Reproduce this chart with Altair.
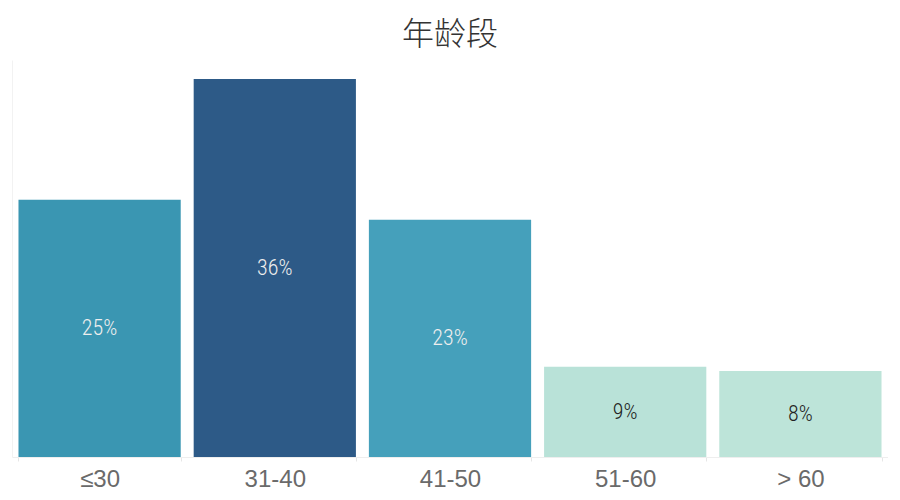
import altair as alt
import pandas as pd

categories = ["≤30", "31-40", "41-50", "51-60", "> 60"]
values = [24.5, 36.0, 22.6, 8.6, 8.2]
labels = ["25%", "36%", "23%", "9%", "8%"]
colors = ["#3a96b2", "#2d5a87", "#45a0bb", "#b9e2d8", "#bde4d9"]
label_colors = ["#eeeeee", "#eeeeee", "#eeeeee", "#222222", "#222222"]

df = pd.DataFrame({
    "cat": categories,
    "value": values,
    "label": labels,
    "color": colors,
    "lcolor": label_colors,
})

x = alt.X(
    "cat:N",
    sort=categories,
    title=None,
    scale=alt.Scale(paddingInner=0.074, paddingOuter=0.037),
    axis=alt.Axis(
        labelAngle=0,
        labelFont="Liberation Sans",
        labelFontSize=24,
        labelColor="#6a6a6a",
        labelPadding=6,
        domainColor="#eeeeee",
        tickColor="#e6e6e6",
        tickSize=4,
        tickBand="extent",
    ),
)
y = alt.Y(
    "value:Q",
    title=None,
    scale=alt.Scale(domain=[0, 37.8], nice=False),
    axis=alt.Axis(labels=False, ticks=False, grid=False, domainColor="#f2f2f2", title=None),
)

bars = alt.Chart(df).mark_bar().encode(
    x=x,
    y=y,
    color=alt.Color("color:N", scale=None, legend=None),
)

text = alt.Chart(df).transform_calculate(
    mid="datum.value / 2"
).mark_text(
    font="Roboto Condensed, Liberation Sans Narrow, Roboto, Liberation Sans",
    fontSize=22,
    fontWeight=300,
    baseline="middle",
    align="center",
).encode(
    x=alt.X("cat:N", sort=categories),
    y=alt.Y("mid:Q"),
    text="label:N",
    color=alt.Color("lcolor:N", scale=None, legend=None),
)

chart = alt.layer(bars, text).properties(
    width=876,
    height=397,
    autosize=alt.AutoSizeParams(type="none"),
    padding={"left": 4, "top": 52, "right": 0, "bottom": 35},
    title=alt.TitleParams(
        "年龄段",
        font="Noto Sans CJK SC",
        fontSize=32,
        fontWeight=300,
        color="#333333",
        anchor="middle",
        offset=8,
    ),
).configure_view(stroke=None)

chart.save("out.html", embed_options={"renderer": "svg", "actions": False})
